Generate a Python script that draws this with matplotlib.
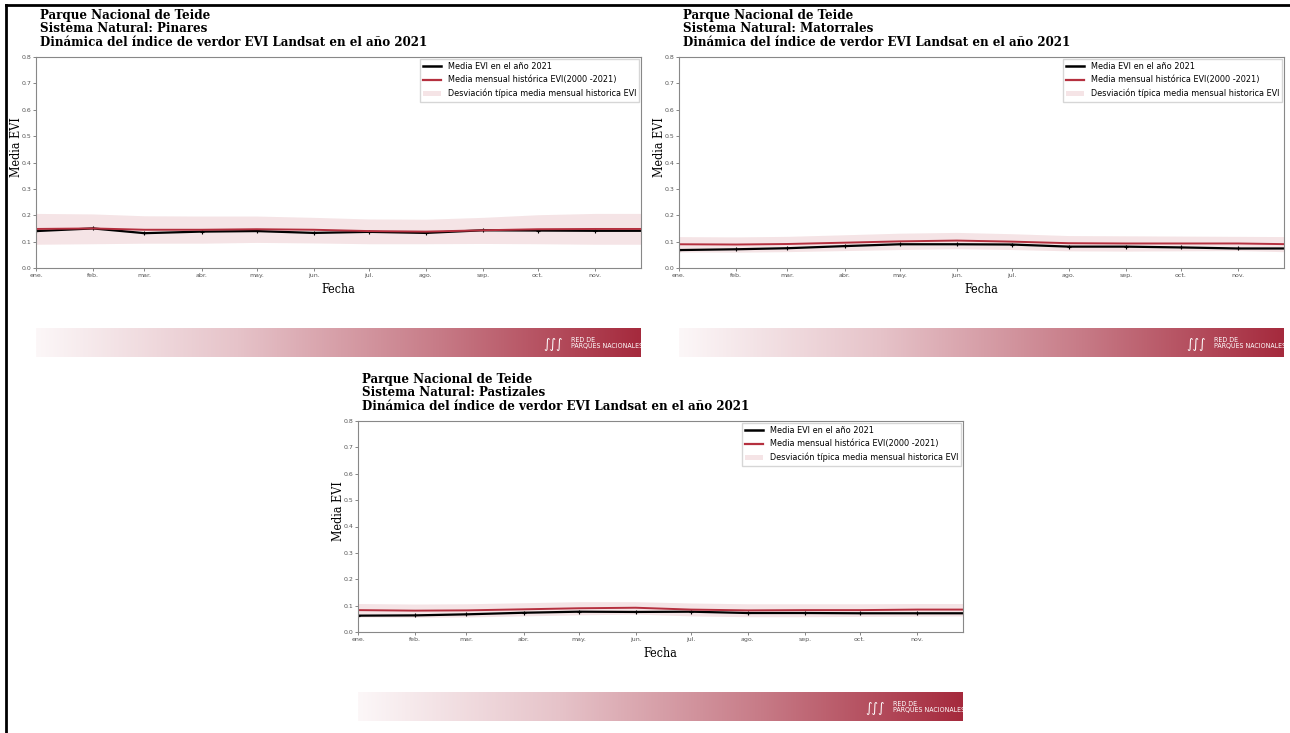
import numpy as np
import pandas as pd
import matplotlib
matplotlib.use("Agg")
import matplotlib.pyplot as plt
from matplotlib.lines import Line2D
from matplotlib.patches import Patch
from matplotlib.colors import LinearSegmentedColormap

# monthly dates and labels
meses = pd.date_range("2021-01-01", periods=12, freq="MS")
etiquetas = ["ene.", "feb.", "mar.", "abr.", "may.", "jun.", "jul.", "ago.", "sep.", "oct.", "nov."]

# Pinares
pin_2021 = [0.140, 0.150, 0.132, 0.138, 0.140, 0.133, 0.137, 0.133, 0.143, 0.142, 0.141, 0.141]
pin_media = [0.148, 0.150, 0.145, 0.145, 0.147, 0.145, 0.140, 0.138, 0.143, 0.147, 0.148, 0.148]
pin_sup = [0.207, 0.205, 0.198, 0.197, 0.197, 0.192, 0.186, 0.185, 0.192, 0.202, 0.207, 0.207]
pin_inf = [0.090, 0.092, 0.094, 0.094, 0.097, 0.095, 0.092, 0.092, 0.093, 0.092, 0.090, 0.090]

# Matorrales
mat_2021 = [0.068, 0.071, 0.075, 0.083, 0.090, 0.090, 0.089, 0.081, 0.081, 0.078, 0.074, 0.074]
mat_media = [0.090, 0.089, 0.091, 0.096, 0.101, 0.104, 0.100, 0.094, 0.093, 0.093, 0.093, 0.090]
mat_sup = [0.119, 0.118, 0.120, 0.126, 0.132, 0.135, 0.130, 0.123, 0.122, 0.121, 0.120, 0.119]
mat_inf = [0.061, 0.060, 0.062, 0.066, 0.070, 0.073, 0.070, 0.065, 0.064, 0.065, 0.066, 0.061]

# Pastizales
pas_2021 = [0.062, 0.063, 0.067, 0.073, 0.077, 0.076, 0.077, 0.072, 0.072, 0.071, 0.071, 0.071]
pas_media = [0.083, 0.081, 0.082, 0.086, 0.090, 0.092, 0.085, 0.082, 0.083, 0.083, 0.085, 0.085]
pas_sup = [0.108, 0.106, 0.107, 0.111, 0.115, 0.115, 0.110, 0.107, 0.107, 0.107, 0.108, 0.108]
pas_inf = [0.057, 0.056, 0.057, 0.061, 0.065, 0.068, 0.061, 0.058, 0.058, 0.059, 0.060, 0.061]

ROJO = "#b5303f"
W, H = 1290, 733
SERIF = dict(family="DejaVu Serif", stretch="condensed")

fig = plt.figure(figsize=(W / 100, H / 100), dpi=100)
banner_cmap = LinearSegmentedColormap.from_list("banner", ["#fcf7f8", "#e6c3c9", "#c77b87", "#a52a3d"])


def panel(x0, y_top, sistema, y2021, media, sup, inf):
    # x0, y_top: pixel position of the axes top-left corner
    aw, ah = 605, 211
    ax = fig.add_axes([x0 / W, 1 - (y_top + ah) / H, aw / W, ah / H])
    ax.fill_between(meses, inf, sup, color=ROJO, alpha=0.13, lw=0)
    ax.plot(meses, y2021, color="black", lw=1.6, marker="+", ms=3, mew=0.8)
    ax.plot(meses, media, color=ROJO, lw=1.4)
    ax.set_ylim(0, 0.8)
    ax.set_xlim(pd.Timestamp("2021-01-01"), pd.Timestamp("2021-11-26"))
    ax.set_xticks(meses[:11])
    ax.set_xticklabels(etiquetas)
    ax.set_yticks(np.arange(0, 0.81, 0.1))
    ax.set_yticklabels([f"{v:.1f}" for v in np.arange(0, 0.81, 0.1)])
    ax.tick_params(labelsize=4.5, length=2, width=0.5, colors="#555555", pad=1.5)
    for s in ax.spines.values():
        s.set_color("#888888")
        s.set_linewidth(0.8)
    ax.set_xlabel("Fecha", fontsize=9, labelpad=4, **SERIF)
    ax.set_ylabel("Media EVI", fontsize=9, **SERIF)
    ax.yaxis.set_label_coords(-0.022, 0.575)
    handles = [Line2D([], [], color="black", lw=1.8),
               Line2D([], [], color=ROJO, lw=1.6),
               Patch(facecolor=ROJO, alpha=0.13, lw=0)]
    labels = ["Media EVI en el año 2021",
              "Media mensual histórica EVI(2000 -2021)",
              "Desviación típica media mensual historica EVI"]
    ax.legend(handles, labels, loc="upper right", fontsize=5.9, frameon=True,
              fancybox=False, edgecolor="#cccccc", handlelength=2.2,
              labelspacing=0.55, borderaxespad=0.2)
    fig.text((x0 + 4) / W, 1 - (y_top - 48) / H,
             "Parque Nacional de Teide\nSistema Natural: " + sistema +
             "\nDinámica del índice de verdor EVI Landsat en el año 2021",
             weight="bold", fontsize=9.5, va="top", ha="left",
             linespacing=1.05, **SERIF)
    # banner below each chart
    bx = fig.add_axes([x0 / W, 1 - (y_top + 300) / H, aw / W, 29 / H])
    bx.imshow(np.linspace(0, 1, 256)[None, :], aspect="auto", cmap=banner_cmap,
              extent=[0, 1, 0, 1])
    bx.set_xlim(0, 1)
    bx.set_ylim(0, 1)
    bx.axis("off")
    bx.text(0.884, 0.47, "RED DE\nPARQUES NACIONALES", color="white", fontsize=5,
            ha="left", va="center", linespacing=1.0, stretch="condensed")
    bx.text(0.855, 0.42, "\u222b\u222b\u222b", color="white", fontsize=9,
            ha="center", va="center", style="italic")
    return ax


panel(36, 57, "Pinares", pin_2021, pin_media, pin_sup, pin_inf)
panel(679, 57, "Matorrales", mat_2021, mat_media, mat_sup, mat_inf)
panel(358, 421, "Pastizales", pas_2021, pas_media, pas_sup, pas_inf)

# outer frame lines (left and top)
fig.add_artist(Line2D([5.5 / W, 5.5 / W], [0, 1 - 5 / H], color="black", lw=2,
                      transform=fig.transFigure))
fig.add_artist(Line2D([5.5 / W, 1], [1 - 5 / H, 1 - 5 / H], color="black", lw=2,
                      transform=fig.transFigure))

fig.savefig("out.png", dpi=100)
